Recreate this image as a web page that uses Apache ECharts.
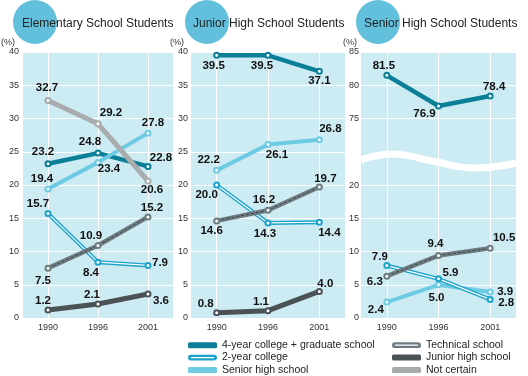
<!DOCTYPE html>
<html>
<head>
<meta charset="utf-8">
<script src="https://cdn.jsdelivr.net/npm/echarts@6/dist/echarts.min.js"></script>
<style>
  html, body { margin: 0; padding: 0; background: #fff; }
  #chart { width: 528px; height: 376px; }
</style>
</head>
<body>
<div id="chart"></div>
<script>
const years = ['1990', '1996', '2001'];
const panelTitles = ['Elementary School Students', 'Junior High School Students', 'Senior High School Students'];
const names = ['4-year college + graduate school', '2-year college', 'Senior high school',
  'Technical school', 'Junior high school', 'Not certain'];

// elementary school students
const elemCollege4 = [23.2, 24.8, 22.8];
const elemCollege2 = [15.7, 8.4, 7.9];
const elemSenior = [19.4, 23.4, 27.8];
const elemTechnical = [7.5, 10.9, 15.2];
const elemJunior = [1.2, 2.1, 3.6];
const elemNotCertain = [32.7, 29.2, 20.6];

// junior high school students
const juniorCollege4 = [39.5, 39.5, 37.1];
const juniorCollege2 = [20.0, 14.3, 14.4];
const juniorSenior = [22.2, 26.1, 26.8];
const juniorTechnical = [14.6, 16.2, 19.7];
const juniorJunior = [0.8, 1.1, 4.0];

// senior high school students (4-year sits above the axis break)
const seniorCollege4 = [81.5, 76.9, 78.4];
const seniorCollege2 = [7.9, 5.9, 2.8];
const seniorSenior = [2.4, 5.0, 3.9];
const seniorTechnical = [6.3, 9.4, 10.5];

const C = {
  bg: '#cdebf3',
  circle: '#62c0dc',
  college4: '#0a7f97',
  college2: '#1ba3cc',
  senior: '#6ccae2',
  technical: '#6e7c81',
  techInner: '#3b4649',
  junior: '#4a5256',
  notCertain: '#a9acad',
  text: '#111',
};
const FONT = '"Liberation Sans", Arial, sans-serif';

// label centre offsets from each point, px
const shift = {
  elemCollege4: [[-5, -12], [-8, -11], [13, -9]],
  elemCollege2: [[-10, -10], [-7, 11], [12, -3]],
  elemSenior: [[-6, -10], [11, 6], [5, -10]],
  elemTechnical: [[-5, 13], [-7, -10], [4, -9]],
  elemJunior: [[-5, -9], [-6, -9], [13, 7]],
  elemNotCertain: [[-1, -13], [13, -11], [4, 9]],
  juniorCollege4: [[-3, 11], [-6, 11], [0, 10]],
  juniorCollege2: [[-10, 10], [-3, 11], [10, 11]],
  juniorSenior: [[-8, -11], [9, 10], [11, -11]],
  juniorTechnical: [[-5, 10], [-4, -10], [6, -8]],
  juniorJunior: [[-11, -9], [-7, -9], [6, -8]],
  seniorCollege4: [[-3, -10], [-14, 8], [4, -9]],
  seniorCollege2: [[-7, -9], [12, -6], [16, 3]],
  seniorSenior: [[-11, 8], [-2, 13], [15, 0]],
  seniorTechnical: [[-12, 6], [-3, -12], [14, -10]],
};

const doubleIcon = 'path://M3,0H27A3,3,0,0,1,27,6H3A3,3,0,0,1,3,0ZM3,2.4V3.6H27V2.4Z';

const series = [];
const labelStyle = {
  show: true, position: 'inside', fontSize: 11.5, fontWeight: 'bold',
  color: C.text, fontFamily: FONT, formatter: (p) => Number(p.value).toFixed(1),
};
function pts(values, offs) {
  return values.map((v, i) => ({ value: v, label: { offset: offs[i] } }));
}
function single(g, name, values, offs, color, width) {
  series.push({
    type: 'line', name, xAxisIndex: g, yAxisIndex: g, data: pts(values, offs),
    symbol: 'emptyCircle', symbolSize: 5,
    itemStyle: { color, borderWidth: 1 },
    lineStyle: { color, width },
    label: labelStyle,
  });
}
// outer coloured band + inner thin line (markers and labels ride on the inner one)
function double(g, name, values, offs, color, width, inner) {
  series.push({
    type: 'line', name, xAxisIndex: g, yAxisIndex: g, data: values,
    symbol: 'none', itemStyle: { color }, lineStyle: { color, width },
  });
  series.push({
    type: 'line', name: name + ' (inner)', xAxisIndex: g, yAxisIndex: g, data: pts(values, offs),
    symbol: 'emptyCircle', symbolSize: 5,
    itemStyle: { color, borderWidth: 1 },
    lineStyle: inner,
    label: labelStyle,
  });
}
const whiteInner = { color: '#fff', width: 1.2 };
const dashInner = { color: C.techInner, width: 1, type: [3, 2] };

single(0, names[0], elemCollege4, shift.elemCollege4, C.college4, 4.5);
single(0, names[2], elemSenior, shift.elemSenior, C.senior, 4);
double(0, names[1], elemCollege2, shift.elemCollege2, C.college2, 4, whiteInner);
double(0, names[3], elemTechnical, shift.elemTechnical, C.technical, 4.5, dashInner);
single(0, names[4], elemJunior, shift.elemJunior, C.junior, 5);
single(0, names[5], elemNotCertain, shift.elemNotCertain, C.notCertain, 5);

single(1, names[0], juniorCollege4, shift.juniorCollege4, C.college4, 4.5);
single(1, names[2], juniorSenior, shift.juniorSenior, C.senior, 4);
double(1, names[1], juniorCollege2, shift.juniorCollege2, C.college2, 4, whiteInner);
double(1, names[3], juniorTechnical, shift.juniorTechnical, C.technical, 4.5, dashInner);
single(1, names[4], juniorJunior, shift.juniorJunior, C.junior, 5);

single(2, names[0], seniorCollege4, shift.seniorCollege4, C.college4, 4.5);
single(3, names[2], seniorSenior, shift.seniorSenior, C.senior, 4);
double(3, names[1], seniorCollege2, shift.seniorCollege2, C.college2, 4, whiteInner);
double(3, names[3], seniorTechnical, shift.seniorTechnical, C.technical, 4.5, dashInner);

const grids = [
  { left: 20, top: 52, width: 153, height: 266 },
  { left: 191, top: 52, width: 154, height: 266 },
  { left: 361, top: 52, width: 155, height: 100 },
  { left: 361, top: 152, width: 155, height: 166 },
].map((g) => ({ ...g, show: true, backgroundColor: C.bg, borderWidth: 0 }));

const xAxis = grids.map((g, i) => ({
  type: 'category', gridIndex: i, data: years, boundaryGap: true,
  axisLine: { show: false }, axisTick: { show: false },
  axisLabel: { show: i !== 2, fontSize: 9, color: '#333', margin: 5, fontFamily: FONT },
  splitLine: { show: true, alignWithLabel: true, lineStyle: { color: '#fff', width: 1 } },
}));

const yBase = {
  type: 'value', interval: 5,
  axisLine: { show: false }, axisTick: { show: false },
  splitLine: { lineStyle: { color: '#fff', width: 1 } },
  nameLocation: 'end', nameGap: 5,
};
const yLabel = (margin) => ({ fontSize: 9, color: '#333', margin, fontFamily: FONT });
const pctName = (pad) => ({ fontSize: 9, color: '#333', align: 'right', padding: [0, pad, 0, 0], fontFamily: FONT });
const yAxis = [
  { ...yBase, gridIndex: 0, min: 0, max: 40, axisLabel: yLabel(4), name: '(%)', nameTextStyle: pctName(8) },
  { ...yBase, gridIndex: 1, min: 0, max: 40, axisLabel: yLabel(3), name: '(%)', nameTextStyle: pctName(7) },
  { ...yBase, gridIndex: 2, min: 70, max: 85, name: '(%)', nameTextStyle: pctName(4),
    axisLabel: { ...yLabel(2), showMinLabel: false },
    splitLine: { showMinLine: false, lineStyle: { color: '#fff', width: 1 } } },
  { ...yBase, gridIndex: 3, min: 0, max: 25,
    axisLabel: { ...yLabel(2), showMaxLabel: false },
    splitLine: { showMaxLine: false, lineStyle: { color: '#fff', width: 1 } } },
];

const legendBase = {
  orient: 'vertical', top: 339, height: 80, width: 200, padding: 0,
  itemWidth: 29, itemHeight: 6, itemGap: 0,
  selectedMode: false, itemStyle: { borderWidth: 0 },
  textStyle: { fontSize: 10.5, color: '#222', lineHeight: 12.4, fontFamily: FONT },
};
const legend = [
  { ...legendBase, left: 188, data: [
    { name: names[0], icon: 'roundRect' },
    { name: names[1], icon: doubleIcon },
    { name: names[2], icon: 'roundRect' },
  ] },
  { ...legendBase, left: 392, width: 130, data: [
    { name: names[3], icon: doubleIcon },
    { name: names[4], icon: 'roundRect' },
    { name: names[5], icon: 'roundRect' },
  ] },
];

const titleX = [[35, 22], [207, 193], [378, 364]];
const graphic = [];
titleX.forEach(([cx, tx], i) => {
  graphic.push({ type: 'circle', z: 10, shape: { cx, cy: 22, r: 22 }, style: { fill: C.circle } });
  graphic.push({ type: 'text', z: 11, x: tx, y: 24,
    style: { text: panelTitles[i], fontSize: 12, fill: '#222', verticalAlign: 'middle', fontFamily: FONT } });
});
// break band across the senior high panel
graphic.push({
  type: 'polyline', z: 1,
  shape: { points: [[361, 160], [393, 154], [432, 161], [472, 168], [516, 163]], smooth: 0.5 },
  style: { stroke: '#fff', lineWidth: 7, fill: null },
});

const chart = echarts.init(document.getElementById('chart'));
chart.setOption({
  animation: false,
  grid: grids,
  xAxis,
  yAxis,
  legend,
  graphic,
  series,
});
</script>
</body>
</html>
